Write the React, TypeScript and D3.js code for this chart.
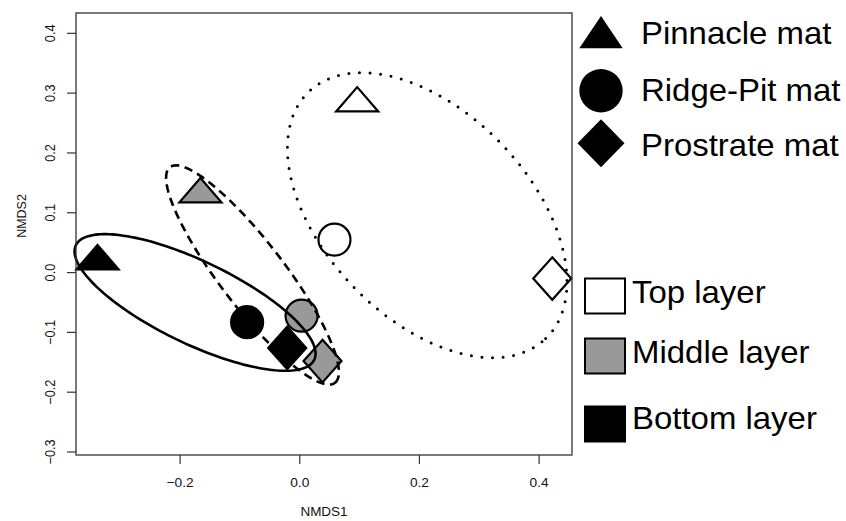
import React, { useEffect, useRef } from "react";
import * as d3 from "d3";

const layers = ["Top layer", "Middle layer", "Bottom layer"];
const layerFill = ["#ffffff", "#999999", "#000000"];
const mats = ["Pinnacle mat", "Ridge-Pit mat", "Prostrate mat"];
const matShapes = ["triangle", "circle", "diamond"];

// NMDS scores: one row per mat, columns = top / middle / bottom layer
const nmds1 = [
  [0.096, -0.166, -0.338],
  [0.058, 0.003, -0.088],
  [0.422, 0.038, -0.021],
];
const nmds2 = [
  [0.283, 0.131, 0.019],
  [0.055, -0.072, -0.083],
  [-0.01, -0.148, -0.126],
];

// one ellipse per layer (top dotted, middle dashed, bottom solid)
const ellCx = [0.213, -0.079, -0.175];
const ellCy = [0.096, -0.004, -0.05];
const ellA = [0.286, 0.227, 0.221];
const ellB = [0.172, 0.054, 0.069];
const ellAngle = [-46.2, -52.6, -25.7];

const xTicks = [-0.2, 0.0, 0.2, 0.4];
const yTicks = [-0.3, -0.2, -0.1, 0.0, 0.1, 0.2, 0.3, 0.4];

const W = 846;
const H = 521;
const SX = 1.08; // the original picture is a little stretched sideways
const FONT = "'Liberation Sans', Arial, Helvetica, sans-serif";

const App = () => {
  const ref = useRef<SVGSVGElement | null>(null);

  useEffect(() => {
    document.body.style.margin = "0";
    const svg = d3.select(ref.current);
    svg.selectAll("*").remove();

    const left = 76, right = 572, top = 13, bottom = 455;

    const x = d3.scaleLinear().domain([-0.374, 0.455]).range([left, right]);
    const y = d3.scaleLinear().domain([-0.305, 0.434]).range([bottom, top]);

    svg.append("rect")
      .attr("width", W)
      .attr("height", H)
      .attr("fill", "#fff");

    function symbol(g, shape, cx, cy, size, fill) {
      // size = half width of the mark
      if (shape === "circle") {
        g.append("circle")
          .attr("cx", cx).attr("cy", cy).attr("r", size)
          .attr("fill", fill).attr("stroke", "#000").attr("stroke-width", 2.2);
      } else if (shape === "triangle") {
        const h = size * 1.5;
        g.append("path")
          .attr("d", `M${cx},${cy - h * 2 / 3} L${cx + size * 1.3},${cy + h / 3} L${cx - size * 1.3},${cy + h / 3} Z`)
          .attr("fill", fill).attr("stroke", "#000").attr("stroke-width", 2.2)
          .attr("stroke-linejoin", "miter");
      } else {
        const hy = size * 1.12;
        g.append("path")
          .attr("d", `M${cx},${cy - hy} L${cx + size},${cy} L${cx},${cy + hy} L${cx - size},${cy} Z`)
          .attr("fill", fill).attr("stroke", "#000").attr("stroke-width", 2.2);
      }
    }

    const pointSize = { triangle: 16.2, circle: 16, diamond: 19 };

    // points
    const pts = svg.append("g");
    layers.forEach((layer, li) => {
      mats.forEach((mat, mi) => {
        const shape = matShapes[mi];
        symbol(pts, shape, x(nmds1[mi][li]), y(nmds2[mi][li]), pointSize[shape], layerFill[li]);
      });
    });

    // ellipses
    const line = d3.line().curve(d3.curveLinearClosed);
    const steps = d3.range(0, 2 * Math.PI, Math.PI / 90);
    const dashes = ["0 10.6", "8.5 5.5", null];
    layers.forEach((layer, li) => {
      const phi = (ellAngle[li] * Math.PI) / 180;
      const coords = steps.map((t) => {
        const dx = ellA[li] * Math.cos(t) * Math.cos(phi) - ellB[li] * Math.sin(t) * Math.sin(phi);
        const dy = ellA[li] * Math.cos(t) * Math.sin(phi) + ellB[li] * Math.sin(t) * Math.cos(phi);
        return [x(ellCx[li] + dx), y(ellCy[li] + dy)];
      });
      const p = svg.append("path")
        .attr("d", line(coords))
        .attr("fill", "none")
        .attr("stroke", "#000")
        .attr("stroke-width", li === 0 ? 3 : 2.6)
        .attr("stroke-linecap", li === 0 ? "round" : "butt");
      if (dashes[li]) p.attr("stroke-dasharray", dashes[li]);
    });

    // frame
    svg.append("rect")
      .attr("x", left).attr("y", top)
      .attr("width", right - left).attr("height", bottom - top)
      .attr("fill", "none").attr("stroke", "#333").attr("stroke-width", 1.3);

    // x axis
    const gx = svg.append("g");
    xTicks.forEach((t) => {
      gx.append("line")
        .attr("x1", x(t)).attr("x2", x(t))
        .attr("y1", bottom).attr("y2", bottom + 9)
        .attr("stroke", "#333").attr("stroke-width", 1.2);
      gx.append("text")
        .attr("transform", `translate(${x(t)},487) scale(${SX},1)`)
        .attr("text-anchor", "middle")
        .attr("font-family", FONT).attr("font-size", 12.7).attr("fill", "#111")
        .text(d3.format(".1f")(t));
    });
    gx.append("text")
      .attr("transform", `translate(${(left + right) / 2},516) scale(${SX},1)`)
      .attr("text-anchor", "middle")
      .attr("font-family", FONT).attr("font-size", 12.5).attr("fill", "#111")
      .text("NMDS1");

    // y axis
    const gy = svg.append("g");
    yTicks.forEach((t) => {
      gy.append("line")
        .attr("x1", left - 9).attr("x2", left)
        .attr("y1", y(t)).attr("y2", y(t))
        .attr("stroke", "#333").attr("stroke-width", 1.2);
      gy.append("text")
        .attr("transform", `translate(55,${y(t)}) scale(${SX},1) rotate(-90)`)
        .attr("text-anchor", "middle")
        .attr("font-family", FONT).attr("font-size", 12.7).attr("fill", "#111")
        .text(d3.format(".1f")(t));
    });
    gy.append("text")
      .attr("transform", `translate(26,216) scale(${SX},1) rotate(-90)`)
      .attr("text-anchor", "middle")
      .attr("font-family", FONT).attr("font-size", 12.5).attr("fill", "#111")
      .text("NMDS2");

    // legend: mats
    const lg = svg.append("g");
    const matRowY = [37.5, 90.7, 143.3];
    const matTextY = [44, 101, 156];
    const matLegendSize = { triangle: 16.5, circle: 21.7, diamond: 23.5 };
    mats.forEach((mat, mi) => {
      const shape = matShapes[mi];
      const s = matLegendSize[shape];
      if (shape === "diamond") {
        lg.append("path")
          .attr("d", `M601,${matRowY[mi] - 24} L${601 + s},${matRowY[mi]} L601,${matRowY[mi] + 24} L${601 - s},${matRowY[mi]} Z`)
          .attr("fill", "#000");
      } else if (shape === "triangle") {
        lg.append("path")
          .attr("d", `M601,${matRowY[mi] - 21.5} L${601 + 21.7},${matRowY[mi] + 10.8} L${601 - 21.7},${matRowY[mi] + 10.8} Z`)
          .attr("fill", "#000");
      } else {
        lg.append("circle").attr("cx", 601).attr("cy", matRowY[mi]).attr("r", s).attr("fill", "#000");
      }
      lg.append("text")
        .attr("transform", `translate(641,${matTextY[mi]}) scale(${SX},1)`)
        .attr("font-family", FONT).attr("font-size", 30.5).attr("fill", "#000")
        .text(mat);
    });

    // legend: layers
    const boxTop = [278.5, 338.5, 406.5];
    const layerTextY = [303, 362.5, 428.5];
    layers.forEach((layer, li) => {
      lg.append("rect")
        .attr("x", 585).attr("y", boxTop[li])
        .attr("width", 40).attr("height", 35)
        .attr("fill", layerFill[li]).attr("stroke", "#000").attr("stroke-width", 2);
      lg.append("text")
        .attr("transform", `translate(632,${layerTextY[li]}) scale(${SX},1)`)
        .attr("font-family", FONT).attr("font-size", 30.5).attr("fill", "#000")
        .text(layer);
    });
  }, []);

  return <svg ref={ref} width={W} height={H} style={{ display: "block" }} />;
};

export default App;
